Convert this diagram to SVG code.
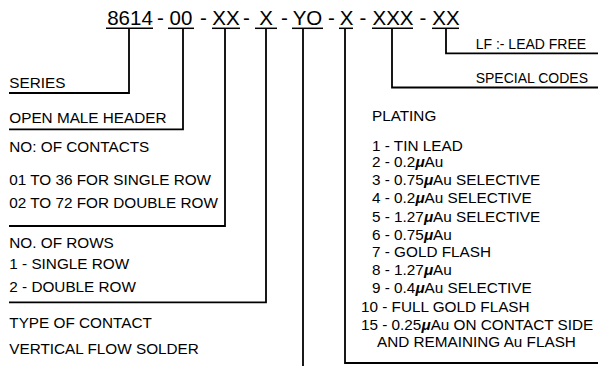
<svg xmlns="http://www.w3.org/2000/svg" width="598" height="366" viewBox="0 0 598 366">
<style>
text{font-family:"Liberation Sans",Arial,sans-serif;fill:#000}
.code{font-size:20.5px;text-anchor:middle}
.lbl{font-size:15.3px}
.rl{font-size:14px}
.pl{font-size:15.3px}
.mu{font-style:italic;font-weight:bold}
.ln{stroke:#000;stroke-width:1.8;fill:none}
.ul{stroke:#000;stroke-width:1.5}
</style>
<rect width="598" height="366" fill="#fff"/>
<g id="code">
<text class="code" x="130" y="25">8614</text>
<text class="code" x="160.5" y="25">-</text>
<text class="code" x="181" y="25">00</text>
<text class="code" x="203.5" y="25">-</text>
<text class="code" x="226" y="25">XX</text>
<text class="code" x="246.5" y="25">-</text>
<text class="code" x="266" y="25">X</text>
<text class="code" x="284.5" y="25">-</text>
<text class="code" x="307.5" y="25">YO</text>
<text class="code" x="331.5" y="25">-</text>
<text class="code" x="346.5" y="25">X</text>
<text class="code" x="363" y="25">-</text>
<text class="code" x="393" y="25">XXX</text>
<text class="code" x="423" y="25">-</text>
<text class="code" x="446" y="25">XX</text>
<g class="ul">
<line x1="106" y1="28.3" x2="153" y2="28.3"/>
<line x1="168" y1="28.3" x2="194" y2="28.3"/>
<line x1="212" y1="28.3" x2="240" y2="28.3"/>
<line x1="255" y1="28.3" x2="277" y2="28.3"/>
<line x1="292" y1="28.3" x2="323" y2="28.3"/>
<line x1="339" y1="28.3" x2="353" y2="28.3"/>
<line x1="372" y1="28.3" x2="413" y2="28.3"/>
<line x1="432" y1="28.3" x2="459" y2="28.3"/>
</g>
</g>
<g id="connectors" class="ln">
<path d="M129 28 V93 H9"/>
<path d="M183 28 V129.3 H9"/>
<path d="M225 28 V226 H9"/>
<path d="M266 28 V302.3 H9"/>
<path d="M303 28 V366"/>
<path d="M345 28 V363 H598"/>
<path d="M392 28 V87.5 H598"/>
<path d="M446 28 V53.3 H598"/>
</g>
<g id="series"><text class="lbl" x="9.3" y="88.3">SERIES</text></g>
<g id="header"><text class="lbl" x="9.3" y="123.3">OPEN MALE HEADER</text></g>
<g id="contacts">
<text class="lbl" x="9.3" y="151.7">NO: OF CONTACTS</text>
<text class="lbl" x="9.3" y="185">01 TO 36 FOR SINGLE ROW</text>
<text class="lbl" x="9.3" y="208.3">02 TO 72 FOR DOUBLE ROW</text>
</g>
<g id="rows">
<text class="lbl" x="9.3" y="248.3">NO. OF ROWS</text>
<text class="lbl" x="9.3" y="269">1 - SINGLE ROW</text>
<text class="lbl" x="9.3" y="291.7">2 - DOUBLE ROW</text>
</g>
<g id="type">
<text class="lbl" x="9.3" y="328.3">TYPE OF CONTACT</text>
<text class="lbl" x="9.3" y="354">VERTICAL FLOW SOLDER</text>
</g>
<g id="leadfree"><text class="rl" x="475.7" y="49">LF :- LEAD FREE</text></g>
<g id="special"><text class="rl" x="475.7" y="83">SPECIAL CODES</text></g>
<g id="plating">
<text class="pl" x="372" y="121">PLATING</text>
<text class="pl" x="372" y="150.7">1 - TIN LEAD</text>
<text class="pl" x="372" y="166.5">2 - 0.2<tspan class="mu">μ</tspan>Au</text>
<text class="pl" x="372" y="185">3 - 0.75<tspan class="mu">μ</tspan>Au SELECTIVE</text>
<text class="pl" x="372" y="203">4 - 0.2<tspan class="mu">μ</tspan>Au SELECTIVE</text>
<text class="pl" x="372" y="221.7">5 - 1.27<tspan class="mu">μ</tspan>Au SELECTIVE</text>
<text class="pl" x="372" y="240">6 - 0.75<tspan class="mu">μ</tspan>Au</text>
<text class="pl" x="372" y="257.3">7 - GOLD FLASH</text>
<text class="pl" x="372" y="275">8 - 1.27<tspan class="mu">μ</tspan>Au</text>
<text class="pl" x="372" y="293">9 - 0.4<tspan class="mu">μ</tspan>Au SELECTIVE</text>
<text class="pl" x="361" y="311.7">10 - FULL GOLD FLASH</text>
<text class="pl" x="361" y="330">15 - 0.25<tspan class="mu">μ</tspan>Au ON CONTACT SIDE</text>
<text class="pl" x="377" y="347.3">AND REMAINING Au FLASH</text>
</g>
</svg>
